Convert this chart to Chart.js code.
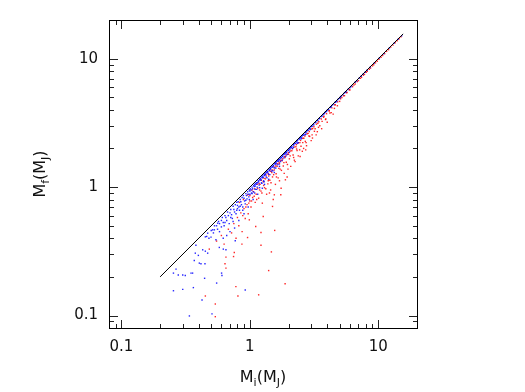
<!DOCTYPE html>
<html>
<head>
<meta charset="utf-8">
<script src="https://cdn.jsdelivr.net/npm/chart.js@4.4.1/dist/chart.umd.min.js"></script>
<style>
  html, body { margin: 0; padding: 0; background: #fff; }
</style>
</head>
<body>
<canvas id="c" width="525" height="392"></canvas>
<script>
// ---- data ----
const axisMin = 0.08;
const axisMax = 20;
const labelTicks = [0.1, 1, 10];
const majorTicks = [0.1, 1, 10];
const minorTicks = [0.08, 0.09, 0.2, 0.3, 0.4, 0.5, 0.6, 0.7, 0.8, 0.9,
  2, 3, 4, 5, 6, 7, 8, 9];

// the 1:1 line
const lineX = [0.2, 15.6];
const lineY = [0.2, 15.6];

// blue planets [Mi, Mf]
const bluePoints = [
  [0.266, 0.230], [0.254, 0.214], [0.277, 0.207], [0.300, 0.207], [0.314, 0.205],
  [0.348, 0.214], [0.358, 0.214], [0.254, 0.156], [0.300, 0.160], [0.363, 0.165],
  [0.338, 0.0993], [0.507, 0.103], [0.424, 0.132], [0.444, 0.195], [0.369, 0.268],
  [0.404, 0.256], [0.416, 0.253], [0.447, 0.253], [0.376, 0.306], [0.397, 0.294],
  [0.380, 0.353], [0.429, 0.325], [0.450, 0.317], [0.469, 0.306], [0.461, 0.413],
  [0.469, 0.438], [0.513, 0.465], [0.529, 0.465], [0.561, 0.524], [0.498, 0.408],
  [0.544, 0.389], [0.578, 0.339], [0.621, 0.329], [0.651, 0.325], [0.551, 0.179],
  [0.602, 0.214], [0.606, 0.205], [0.769, 0.382], [0.920, 0.158],
  [0.45, 0.41], [0.48, 0.40], [0.50, 0.46], [0.52, 0.44], [0.55, 0.50],
  [0.56, 0.47], [0.58, 0.52], [0.60, 0.49], [0.60, 0.55], [0.62, 0.53],
  [0.63, 0.50], [0.65, 0.58], [0.66, 0.55], [0.68, 0.60], [0.69, 0.52],
  [0.70, 0.63], [0.72, 0.61], [0.73, 0.57], [0.75, 0.67], [0.76, 0.64],
  [0.78, 0.62], [0.80, 0.72], [0.80, 0.68], [0.82, 0.70], [0.83, 0.66],
  [0.85, 0.77], [0.86, 0.73], [0.88, 0.70], [0.90, 0.82], [0.91, 0.78],
  [0.92, 0.74], [0.94, 0.86], [0.95, 0.81], [0.97, 0.88], [0.98, 0.84],
  [1.00, 0.93], [1.00, 0.88], [1.02, 0.95], [1.03, 0.90], [1.05, 0.97],
  [1.06, 0.92], [1.08, 1.01], [1.10, 1.02], [1.10, 0.96], [1.12, 1.05],
  [1.14, 1.00], [1.15, 1.08], [1.17, 1.10], [1.18, 1.04], [1.20, 1.13],
  [1.22, 1.14], [1.23, 1.08], [1.25, 1.18], [1.27, 1.19], [1.28, 1.12],
  [1.30, 1.23], [1.32, 1.25], [1.34, 1.20], [1.36, 1.29], [1.38, 1.31],
  [1.40, 1.26], [1.42, 1.35], [1.45, 1.38], [1.47, 1.33], [1.50, 1.43],
  [1.53, 1.46], [1.55, 1.41], [1.58, 1.51], [1.60, 1.53], [1.63, 1.49],
  [1.66, 1.59], [1.70, 1.63], [1.73, 1.58], [1.76, 1.69], [1.80, 1.73],
  [1.84, 1.69], [1.88, 1.81], [1.92, 1.85], [1.96, 1.80], [2.00, 1.93],
  [2.05, 1.98], [2.10, 2.03], [2.15, 2.00], [2.20, 2.13], [2.26, 2.19],
  [2.32, 2.25], [2.38, 2.22], [2.45, 2.38], [2.52, 2.45], [2.60, 2.53],
  [2.68, 2.55], [2.76, 2.69], [2.85, 2.78], [2.95, 2.88], [3.05, 2.98],
  [3.15, 3.05], [3.26, 3.19], [3.38, 3.31], [3.50, 3.43], [3.65, 3.58],
  [3.80, 3.73], [3.95, 3.88], [4.10, 4.03], [4.30, 4.23], [4.50, 4.43],
  [4.75, 4.68], [5.00, 4.93], [5.3, 5.23], [5.6, 5.53], [6.0, 5.93],
  [0.82, 0.55], [0.90, 0.62], [0.97, 0.70], [1.06, 0.80], [1.15, 0.88],
  [1.25, 0.98], [0.76, 0.48], [0.70, 0.45], [0.66, 0.42], [0.62, 0.40],
  [1.3, 1.05], [1.4, 1.15], [1.55, 1.30], [1.7, 1.45],
  [0.53, 0.50], [0.57, 0.54], [0.61, 0.58], [0.64, 0.60], [0.67, 0.64],
  [0.71, 0.67], [0.74, 0.71], [0.77, 0.73], [0.79, 0.76], [0.81, 0.77],
  [0.84, 0.80], [0.87, 0.83], [0.89, 0.86], [0.93, 0.89], [0.96, 0.92],
  [0.99, 0.95], [1.01, 0.97], [1.04, 1.00], [1.07, 1.03], [1.09, 1.05],
  [1.11, 1.07], [1.13, 1.08], [1.16, 1.12], [1.19, 1.15], [1.21, 1.17],
  [1.24, 1.20], [1.26, 1.22], [1.29, 1.25], [1.31, 1.27], [1.33, 1.29],
  [1.35, 1.31], [1.37, 1.33], [1.41, 1.37], [1.44, 1.40], [1.46, 1.42],
  [1.49, 1.45], [1.52, 1.48], [1.56, 1.52], [1.59, 1.55], [1.62, 1.58],
  [1.65, 1.61], [1.68, 1.64], [1.72, 1.68], [1.75, 1.71], [1.79, 1.75],
  [1.83, 1.79], [1.86, 1.82], [1.90, 1.86], [1.94, 1.90], [1.98, 1.94],
  [2.02, 1.98], [2.07, 2.03], [2.12, 2.08], [2.18, 2.14], [2.23, 2.19],
  [2.29, 2.25], [2.35, 2.31], [2.41, 2.37], [2.48, 2.44], [2.55, 2.51],
  [2.63, 2.59], [2.71, 2.67], [2.80, 2.76], [2.90, 2.86], [3.00, 2.96],
  [3.10, 3.06], [3.21, 3.17], [3.33, 3.29], [3.45, 3.41], [3.58, 3.54],
  [3.72, 3.68], [3.87, 3.83], [4.02, 3.98], [4.20, 4.16], [4.40, 4.36],
  [4.62, 4.58], [4.85, 4.81], [5.15, 5.11], [5.45, 5.41], [5.80, 5.76],
  [6.2, 6.16], [6.6, 6.56], [7.1, 7.06], [7.6, 7.56], [8.2, 8.16],
  [0.58, 0.45], [0.64, 0.53], [0.71, 0.58], [0.74, 0.54], [0.79, 0.66],
  [0.84, 0.71], [0.88, 0.66], [0.93, 0.79], [0.99, 0.80], [1.04, 0.89],
  [1.09, 0.90], [1.13, 0.96], [1.19, 0.99], [1.24, 1.07], [1.29, 1.10],
  [1.36, 1.18], [1.43, 1.25], [1.51, 1.34], [1.59, 1.41], [1.68, 1.51],
  [1.78, 1.62], [1.90, 1.74], [2.03, 1.87], [2.18, 2.04], [2.34, 2.19],
  [2.52, 2.38], [2.72, 2.58], [2.95, 2.81],
  [4.25, 4.19], [4.68, 4.62], [5.05, 4.99], [5.55, 5.49], [6.1, 6.04],
  [6.8, 6.74], [7.35, 7.29], [7.9, 7.84], [8.6, 8.54], [9.3, 9.23],
  [10.2, 10.12], [11.0, 10.92], [12.2, 12.12], [13.3, 13.22], [14.3, 14.2],
  [15.2, 15.1]
];

// red planets [Mi, Mf]
const redPoints = [
  [0.450, 0.142], [0.538, 0.123], [0.538, 0.098], [0.807, 0.142], [1.17, 0.145],
  [1.88, 0.177], [0.778, 0.168], [0.651, 0.234], [0.640, 0.253], [0.746, 0.288],
  [0.756, 0.310], [0.867, 0.360], [0.959, 0.405], [1.22, 0.443], [1.22, 0.353],
  [1.47, 0.313], [1.40, 0.224], [1.56, 0.460], [0.483, 0.329], [0.651, 0.285],
  [0.99, 0.556], [1.11, 0.494], [1.27, 0.591], [1.50, 0.707], [1.55, 0.871],
  [1.74, 0.871], [2.72, 1.95], [3.07, 2.41], [2.46, 1.73], [1.89, 1.14],
  [0.55, 0.38], [0.60, 0.42], [0.63, 0.36], [0.68, 0.47], [0.72, 0.44],
  [0.75, 0.52], [0.78, 0.40], [0.80, 0.58], [0.82, 0.50], [0.85, 0.63],
  [0.87, 0.45], [0.90, 0.68], [0.92, 0.57], [0.95, 0.73], [0.97, 0.62],
  [1.00, 0.78], [1.00, 0.86], [1.02, 0.70], [1.05, 0.83], [1.07, 0.92],
  [1.10, 0.76], [1.12, 0.88], [1.15, 0.98], [1.17, 0.82], [1.20, 1.05],
  [1.22, 0.93], [1.25, 0.75], [1.27, 1.10], [1.30, 0.99], [1.32, 1.16],
  [1.35, 0.88], [1.38, 1.06], [1.40, 1.22], [1.43, 1.13], [1.45, 0.95],
  [1.48, 1.30], [1.50, 1.20], [1.52, 0.80], [1.55, 1.36], [1.58, 1.05],
  [1.60, 1.27], [1.63, 1.45], [1.66, 1.18], [1.70, 1.52], [1.72, 1.38],
  [1.75, 0.98], [1.78, 1.60], [1.82, 1.46], [1.85, 1.28], [1.88, 1.70],
  [1.92, 1.56], [1.95, 1.20], [2.00, 1.80], [2.03, 1.66], [2.08, 1.45],
  [2.12, 1.92], [2.17, 1.78], [2.22, 1.62], [2.28, 2.06], [2.33, 1.93],
  [2.38, 1.75], [2.45, 2.22], [2.50, 2.08], [2.56, 1.90], [2.63, 2.40],
  [2.70, 2.27], [2.76, 2.10], [2.84, 2.62], [2.92, 2.48], [3.00, 2.30],
  [3.08, 2.86], [3.18, 2.72], [3.28, 2.55], [3.38, 3.14], [3.50, 3.00],
  [3.62, 2.85], [3.75, 3.50], [3.88, 3.36], [4.00, 3.20], [4.15, 3.92],
  [4.30, 3.80], [4.45, 3.70], [4.62, 4.38], [4.80, 4.30], [5.00, 4.65],
  [5.20, 4.97], [5.45, 5.15], [5.70, 5.45], [6.00, 5.70], [6.30, 6.05],
  [6.60, 6.35], [7.00, 6.75], [7.40, 7.15], [7.80, 7.55], [8.20, 7.98],
  [8.70, 8.45], [9.20, 8.96], [9.80, 9.55], [10.5, 10.25], [11.2, 10.95],
  [12.0, 11.75], [13.0, 12.75], [14.0, 13.8], [15.0, 14.8],
  [0.83, 0.76], [0.89, 0.80], [0.96, 0.87], [1.04, 0.95], [1.09, 0.97],
  [1.14, 1.05], [1.18, 1.07], [1.23, 1.13], [1.29, 1.17], [1.34, 1.24],
  [1.39, 1.27], [1.44, 1.33], [1.49, 1.36], [1.54, 1.43], [1.59, 1.46],
  [1.64, 1.52], [1.69, 1.56], [1.74, 1.62], [1.80, 1.66], [1.86, 1.73],
  [1.93, 1.78], [1.99, 1.85], [2.06, 1.91], [2.14, 1.99], [2.21, 2.05],
  [2.30, 2.14], [2.39, 2.21], [2.48, 2.31], [2.58, 2.40], [2.68, 2.50],
  [2.79, 2.60], [2.90, 2.71], [3.03, 2.83], [3.15, 2.95], [3.30, 3.09],
  [3.44, 3.23], [3.60, 3.39], [3.77, 3.56], [3.95, 3.73], [4.14, 3.93],
  [4.35, 4.14], [4.58, 4.37], [4.82, 4.61], [5.08, 4.87], [5.35, 5.14],
  [5.65, 5.44], [5.95, 5.75], [6.45, 6.24], [6.85, 6.63], [7.25, 7.03],
  [7.65, 7.43], [8.05, 7.83], [8.5, 8.28], [9.0, 8.78], [9.5, 9.28],
  [10.1, 9.88], [10.8, 10.58], [11.6, 11.40], [12.5, 12.3], [13.5, 13.3],
  [14.5, 14.3],
  [0.88, 0.60], [0.93, 0.70], [0.98, 0.75], [1.03, 0.78], [1.08, 0.85],
  [1.13, 0.80], [1.19, 0.95], [1.24, 0.90], [1.28, 1.03], [1.33, 0.97],
  [1.39, 1.12], [1.46, 1.08], [1.53, 1.25], [1.61, 1.20], [1.68, 1.40],
  [1.76, 1.35], [1.84, 1.55], [1.96, 1.50], [2.06, 1.75], [2.19, 1.70],
  [2.31, 1.98], [2.44, 1.95], [2.58, 2.22], [2.74, 2.22], [2.88, 2.50],
  [3.05, 2.55], [3.22, 2.85], [3.42, 2.92], [3.65, 3.25], [3.90, 3.40],
  [4.20, 3.78], [4.55, 4.10], [2.62, 2.00], [2.25, 1.58], [1.98, 1.38],
  [1.70, 1.12], [1.42, 0.90], [3.35, 2.70]
];

const FONT = "'DejaVu Sans', sans-serif";

function labelFor(v) {
  for (const t of labelTicks) {
    if (Math.abs(v - t) / t < 1e-6) return String(t);
  }
  return '';
}

// pixel of a value on a log scale, via the scale itself
function pixOf(scale, v) {
  const lo = Math.log10(scale.min), hi = Math.log10(scale.max);
  return scale.getPixelForDecimal((Math.log10(v) - lo) / (hi - lo));
}

// inward tick marks on all four sides, as 1px filled rects
function fillTickSet(ctx, a, xs, ys, values, len) {
  const L = Math.round(a.left), R = Math.round(a.right);
  const T = Math.round(a.top), B = Math.round(a.bottom);
  values.forEach(v => {
    const px = Math.round(pixOf(xs, v));
    if (px > L + 1 && px < R - 1) {
      ctx.fillRect(px, B - len, 1, len);
      ctx.fillRect(px, T + 1, 1, len);
    }
    const py = Math.round(pixOf(ys, v));
    if (py > T + 1 && py < B - 1) {
      ctx.fillRect(L + 1, py, len, 1);
      ctx.fillRect(R - len, py, len, 1);
    }
  });
}

function drawSubText(ctx, parts, cx, baseY) {
  const big = '16px ' + FONT, small = '11px ' + FONT;
  let w = 0;
  parts.forEach(p => { ctx.font = p[1] ? small : big; w += ctx.measureText(p[0]).width; });
  let x = cx - w / 2;
  ctx.textBaseline = 'alphabetic';
  ctx.textAlign = 'left';
  parts.forEach(p => {
    ctx.font = p[1] ? small : big;
    ctx.fillText(p[0], x, baseY + (p[1] ? 4 : 0));
    x += ctx.measureText(p[0]).width;
  });
}

// box, ticks and axis titles with subscripts
const framePlugin = {
  id: 'plotFrame',
  afterDraw(chart) {
    const ctx = chart.ctx;
    const a = chart.chartArea;
    const xs = chart.scales.x, ys = chart.scales.y;
    ctx.save();
    ctx.globalAlpha = 1;
    ctx.globalCompositeOperation = 'source-over';
    ctx.setLineDash([]);
    ctx.strokeStyle = '#000';
    ctx.lineWidth = 1;
    ctx.strokeRect(Math.round(a.left) + 0.5, Math.round(a.top) + 0.5,
      Math.round(a.right - a.left), Math.round(a.bottom - a.top));
    ctx.fillStyle = '#222';
    fillTickSet(ctx, a, xs, ys, majorTicks, 8);
    fillTickSet(ctx, a, xs, ys, minorTicks, 4);
    ctx.fillStyle = '#111';
    drawSubText(ctx, [['M', 0], ['i', 1], ['(M', 0], ['J', 1], [')', 0]],
      (a.left + a.right) / 2, 382);
    ctx.translate(45, (a.top + a.bottom) / 2);
    ctx.rotate(-Math.PI / 2);
    drawSubText(ctx, [['M', 0], ['f', 1], ['(M', 0], ['J', 1], [')', 0]], 0, 0);
    ctx.restore();
  }
};

function toXY(pts) {
  return pts.map(p => ({ x: p[0], y: p[1] }));
}

const lineData = lineX.map((x, i) => ({ x: x, y: lineY[i] }));

const logAxis = (pos) => ({
  type: 'logarithmic',
  position: pos,
  min: axisMin,
  max: axisMax,
  grid: { display: false, drawTicks: false },
  border: { display: false },
  ticks: {
    autoSkip: false,
    maxRotation: 0,
    padding: pos === 'left' ? 11 : 10,
    color: '#111',
    font: { family: FONT, size: 15 },
    callback: (v) => labelFor(v)
  }
});

new Chart(document.getElementById('c'), {
  type: 'scatter',
  data: {
    datasets: [
      {
        type: 'line',
        label: 'Mf = Mi',
        data: lineData,
        borderColor: '#000',
        borderWidth: 1,
        pointRadius: 0,
        fill: false
      },
      {
        label: 'blue',
        data: toXY(bluePoints),
        backgroundColor: 'rgba(0, 0, 255, 0.85)',
        borderColor: 'rgba(0, 0, 255, 0.85)',
        borderWidth: 0,
        pointStyle: 'rect',
        pointRadius: 1
      },
      {
        label: 'red',
        data: toXY(redPoints),
        backgroundColor: 'rgba(255, 0, 0, 0.85)',
        borderColor: 'rgba(255, 0, 0, 0.85)',
        borderWidth: 0,
        pointStyle: 'rect',
        pointRadius: 1
      }
    ]
  },
  options: {
    responsive: false,
    devicePixelRatio: 1,
    animation: false,
    layout: { padding: { top: 20, right: 108, bottom: 0, left: 0 } },
    plugins: {
      legend: { display: false },
      tooltip: { enabled: false }
    },
    scales: {
      x: Object.assign(logAxis('bottom'), { afterFit: s => { s.height = 64; } }),
      y: Object.assign(logAxis('left'), { afterFit: s => { s.width = 109; } })
    }
  },
  plugins: [framePlugin]
});
</script>
</body>
</html>
